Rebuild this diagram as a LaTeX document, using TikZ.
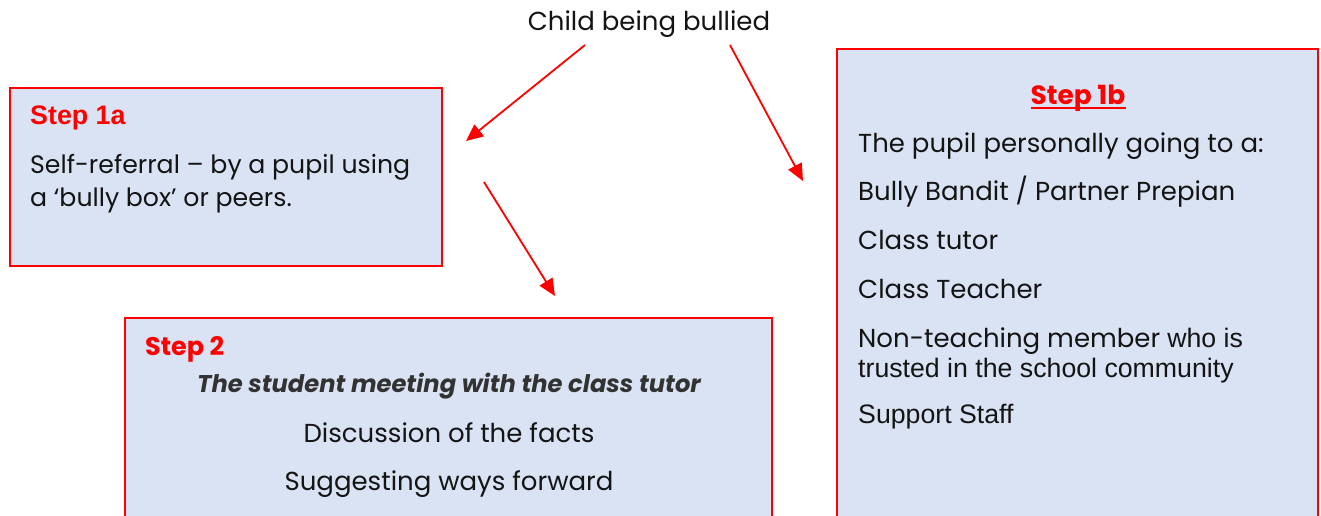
\documentclass[tikz,border=0pt]{standalone}
\usepackage{fontspec}
\setmainfont{Poppins}
\newfontfamily\arialfont{Liberation Sans}
\usetikzlibrary{arrows.meta}
\definecolor{boxfill}{RGB}{218,227,243}
\definecolor{boxline}{RGB}{255,0,0}
\definecolor{bodyink}{RGB}{20,20,20}
\definecolor{italink}{RGB}{50,50,50}
\tikzset{
  stepbox/.style={draw=boxline, fill=boxfill, line width=1.6pt},
  bodytext/.style={font=\fontsize{26}{30}\selectfont, text=bodyink, inner sep=0pt},
  arialtext/.style={font=\fontsize{26.7}{30}\selectfont\arialfont, text=bodyink, inner sep=0pt},
  headtext/.style={font=\fontsize{25.5}{30}\selectfont\bfseries, text=boxline, inner sep=0pt},
  flowarrow/.style={draw=boxline, line width=1.8pt, -{Triangle[length=17pt,width=15pt]}},
}
\begin{document}
\begin{tikzpicture}[x=1pt,y=-1pt]
\useasboundingbox (0,0) rectangle (1321,515);
\clip (0,0) rectangle (1321,515);
\fill[white] (0,0) rectangle (1321,515);

% boxes
\draw[stepbox] (10,88) rectangle (442,266);
\draw[stepbox] (125,318) rectangle (772,540);
\draw[stepbox] (837,49) rectangle (1318,540);

% title
\node[bodytext, anchor=base] (child) at (649,30) {Child being bullied};

% step 1a
\node[headtext, anchor=base west, font=\fontsize{26.8}{30}\selectfont\arialfont\bfseries] (s1a) at (30,124) {Step 1a};
\node[bodytext, anchor=base west, font=\fontsize{25.2}{30}\selectfont] (s1aa) at (30,173) {Self-referral – by a pupil using};
\node[bodytext, anchor=base west, font=\fontsize{25.2}{30}\selectfont] (s1ab) at (30,206) {a ‘bully box’ or peers.};

% step 2
\node[headtext, anchor=base west] (s2) at (145,355) {Step 2};
\node[bodytext, anchor=base, text=italink, font=\fontsize{24.2}{30}\selectfont\bfseries\itshape] (s2a) at (449,392) {The student meeting with the class tutor};
\node[bodytext, anchor=base] (s2b) at (449,442) {Discussion of the facts};
\node[bodytext, anchor=base] (s2c) at (449,490) {Suggesting ways forward};

% step 1b
\node[headtext, anchor=base, font=\fontsize{26.4}{30}\selectfont\bfseries] (s1b) at (1078,104) {Step 1b};
\draw[boxline, line width=1.8pt] ([yshift=-4pt]s1b.base west) -- ([yshift=-4pt]s1b.base east);
\node[bodytext, anchor=base west] (s1ba) at (858,152) {The pupil personally going to a:};
\node[bodytext, anchor=base west] (s1bb) at (858,200) {Bully Bandit / Partner Prepian};
\node[bodytext, anchor=base west] (s1bc) at (858,249) {Class tutor};
\node[bodytext, anchor=base west] (s1bd) at (858,298) {Class Teacher};
\node[bodytext, anchor=base west] (s1be) at (858,347) {Non-teaching member {\fontsize{26.7}{30}\selectfont\arialfont who is}};
\node[arialtext, anchor=base west] (s1bf) at (858,377) {trusted in the school community};
\node[arialtext, anchor=base west] (s1bg) at (858,423) {Support Staff};

% arrows
\coordinate (a1s) at (585,45);
\coordinate (a1e) at (466,141);
\coordinate (a2s) at (730,45);
\coordinate (a2e) at (803,181);
\coordinate (a3s) at (484,182);
\coordinate (a3e) at (555,296);
\draw[flowarrow] (a1s) -- (a1e);
\draw[flowarrow] (a2s) -- (a2e);
\draw[flowarrow] (a3s) -- (a3e);
\end{tikzpicture}
\end{document}
